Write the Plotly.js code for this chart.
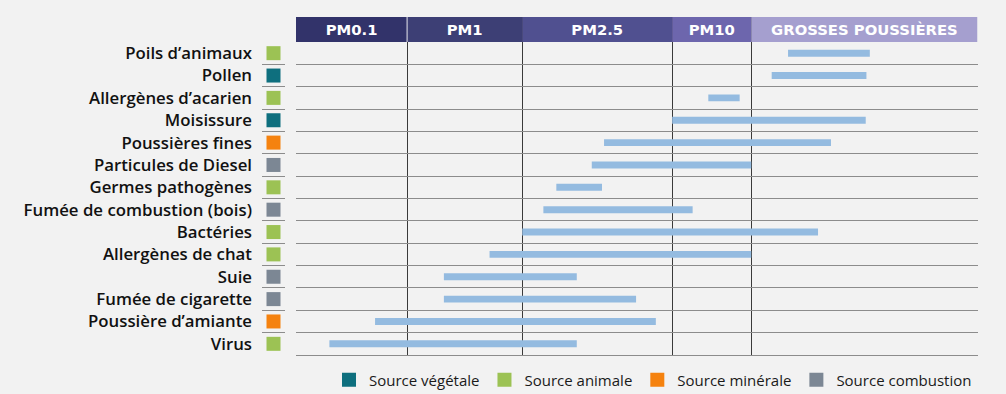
<!DOCTYPE html>
<html>
<head>
<meta charset="utf-8">
<script src="https://cdn.plot.ly/plotly-3.0.1.min.js"></script>
<style>html,body{margin:0;padding:0;background:#f2f2f2;}</style>
</head>
<body>
<div id="chart" style="width:1006px;height:394px;"></div>
<script>
// Size classes (header band), on an arbitrary 0-100 position scale
const headerLabels = ["PM0.1", "PM1", "PM2.5", "PM10", "GROSSES POUSSIÈRES"];
const headerStart  = [0, 16.3, 33.2, 55.2, 66.8];
const headerEnd    = [16.3, 33.2, 55.2, 66.8, 100];
const headerColors = ["#32336a", "#3d3f75", "#505090", "#6d66ad", "#a59fcf"];

// Particles
const categories = ["Poils d’animaux", "Pollen", "Allergènes d’acarien", "Moisissure",
  "Poussières fines", "Particules de Diesel", "Germes pathogènes", "Fumée de combustion (bois)",
  "Bactéries", "Allergènes de chat", "Suie", "Fumée de cigarette", "Poussière d’amiante", "Virus"];
const sources = ["animale", "végétale", "animale", "végétale", "minérale", "combustion", "animale",
  "combustion", "animale", "animale", "combustion", "combustion", "minérale", "animale"];
const rangeStart = [72.2, 69.8, 60.5, 55.2, 45.2, 43.4, 38.2, 36.3, 33.2, 28.4, 21.7, 21.7, 11.6, 4.9];
const rangeEnd   = [84.2, 83.7, 65.1, 83.6, 78.5, 66.8, 44.9, 58.2, 76.6, 66.8, 41.2, 49.9, 52.8, 41.2];

// Source legend
const sourceKeys   = ["végétale", "animale", "minérale", "combustion"];
const sourceNames  = ["Source végétale", "Source animale", "Source minérale", "Source combustion"];
const sourceColors = ["#0e6f7e", "#9cc254", "#f5820f", "#7c8794"];

const colorOf = s => sourceColors[sourceKeys.indexOf(s)];
const FONT = "Open Sans, sans-serif";
const WIDE = "DejaVu Sans, sans-serif";

const traces = [];

// header band
traces.push({
  type: "bar", orientation: "h", xaxis: "x", yaxis: "y2",
  y: headerLabels.map(() => "h"),
  base: headerStart,
  x: headerEnd.map((e, i) => e - headerStart[i]),
  width: 1,
  marker: {color: headerColors, line: {width: 0}},
  text: headerLabels, textposition: "inside", insidetextanchor: "middle",
  textangle: 0, constraintext: "none",
  textfont: {family: WIDE, size: 14.8, color: "#ffffff", weight: 700},
  hoverinfo: "skip", showlegend: false
});

// range bars
traces.push({
  type: "bar", orientation: "h", xaxis: "x", yaxis: "y",
  y: categories,
  base: rangeStart,
  x: rangeEnd.map((e, i) => e - rangeStart[i]),
  width: 0.31,
  marker: {color: "#94bbe0", line: {width: 0}},
  showlegend: false
});

// source squares beside labels
traces.push({
  type: "scatter", mode: "markers", xaxis: "x2", yaxis: "y",
  y: categories, x: categories.map(() => 0.5),
  marker: {symbol: "square", size: 14, color: sources.map(colorOf)},
  cliponaxis: false, hoverinfo: "skip", showlegend: false
});

// legend entries
sourceNames.forEach((n, i) => {
  traces.push({
    type: "scatter", mode: "markers", xaxis: "x", yaxis: "y",
    x: [null], y: [null], name: n,
    marker: {symbol: "square", size: 14, color: sourceColors[i]}
  });
});

const W = 1006, H = 394;
const layout = {
  width: W, height: H,
  paper_bgcolor: "#f2f2f2", plot_bgcolor: "#f2f2f2",
  margin: {l: 0, r: 0, t: 0, b: 0, autoexpand: false},
  barmode: "overlay",
  font: {family: FONT, color: "#1a1a1a"},
  xaxis: {
    domain: [296 / W, 977.5 / W], range: [0, 100], anchor: "y",
    showticklabels: false, ticks: "", zeroline: false,
    showline: true, linecolor: "#8c8c8c", linewidth: 1,
    tickmode: "array", tickvals: headerEnd.slice(0, 4),
    showgrid: true, gridcolor: "#3a3a3a", gridwidth: 1
  },
  xaxis2: {
    domain: [262 / W, 285 / W], range: [0, 1], anchor: "y",
    visible: false, showgrid: false, zeroline: false
  },
  yaxis: {
    domain: [(H - 355) / H, (H - 42) / H], anchor: "x",
    type: "category", categoryorder: "array", categoryarray: categories,
    range: [13.5, -0.5],
    tickson: "boundaries", ticks: "", showline: false, zeroline: false,
    showgrid: true, gridcolor: "#8c8c8c", gridwidth: 1,
    ticklabelstandoff: 43,
    tickfont: {family: FONT, size: 16.8, color: "#111111", weight: 600}
  },
  yaxis2: {
    domain: [(H - 42) / H, (H - 17) / H], anchor: "x",
    range: [-0.5, 0.5], visible: false, showgrid: false, zeroline: false
  },
  shapes: [{
    type: "line", xref: "x", yref: "y2 domain",
    x0: headerEnd[0], x1: headerEnd[0], y0: 0, y1: 1,
    line: {color: "#e8e8f0", width: 1}
  }],
  showlegend: true,
  legend: {
    orientation: "h", x: 329 / W, xanchor: "left", y: (H - 380) / H, yanchor: "middle",
    bgcolor: "rgba(0,0,0,0)",
    font: {family: FONT, size: 15, color: "#1a1a1a", weight: 500},
    itemclick: false, itemdoubleclick: false
  }
};

Plotly.newPlot("chart", traces, layout, {displayModeBar: false, staticPlot: true});
</script>
</body>
</html>
